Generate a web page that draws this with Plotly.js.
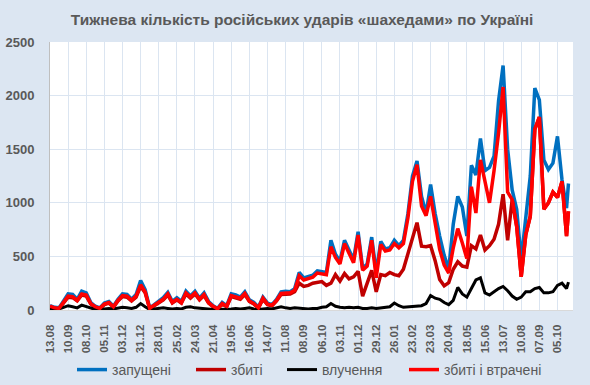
<!DOCTYPE html>
<html>
<head>
<meta charset="utf-8">
<script src="https://cdn.plot.ly/plotly-3.0.1.min.js"></script>
<style>
  html, body { margin: 0; padding: 0; background: #dce6f2; }
  #chart { width: 590px; height: 385px; }
</style>
</head>
<body>
<div id="chart"></div>
<script>
const dates = [
 '2023-08-13','2023-08-20','2023-08-27','2023-09-03','2023-09-10','2023-09-17','2023-09-24','2023-10-01','2023-10-08','2023-10-15',
 '2023-10-22','2023-10-29','2023-11-05','2023-11-12','2023-11-19','2023-11-26','2023-12-03','2023-12-10','2023-12-17','2023-12-24',
 '2023-12-31','2024-01-07','2024-01-14','2024-01-21','2024-01-28','2024-02-04','2024-02-11','2024-02-18','2024-02-25','2024-03-03',
 '2024-03-10','2024-03-17','2024-03-24','2024-03-31','2024-04-07','2024-04-14','2024-04-21','2024-04-28','2024-05-05','2024-05-12',
 '2024-05-19','2024-05-26','2024-06-02','2024-06-09','2024-06-16','2024-06-23','2024-06-30','2024-07-07','2024-07-14','2024-07-21',
 '2024-07-28','2024-08-04','2024-08-11','2024-08-18','2024-08-25','2024-09-01','2024-09-08','2024-09-15','2024-09-22','2024-09-29',
 '2024-10-06','2024-10-13','2024-10-20','2024-10-27','2024-11-03','2024-11-10','2024-11-17','2024-11-24','2024-12-01','2024-12-08',
 '2024-12-15','2024-12-22','2024-12-29','2025-01-05','2025-01-12','2025-01-19','2025-01-26','2025-02-02','2025-02-09','2025-02-16',
 '2025-02-23','2025-03-02','2025-03-09','2025-03-16','2025-03-23','2025-03-30','2025-04-06','2025-04-13','2025-04-20','2025-04-27',
 '2025-05-04','2025-05-11','2025-05-18','2025-05-25','2025-06-01','2025-06-08','2025-06-15','2025-06-22','2025-06-29','2025-07-06',
 '2025-07-13','2025-07-20','2025-07-27','2025-08-03','2025-08-10','2025-08-17','2025-08-24','2025-08-31','2025-09-07','2025-09-14',
 '2025-09-21','2025-09-28','2025-10-05','2025-10-12','2025-10-19','2025-10-22'
];

const launched = [
 40,25,20,80,150,145,100,175,160,70,
 35,20,65,80,35,100,150,145,100,145,
 275,190,20,50,80,115,165,80,115,80,
 175,130,175,110,160,80,40,15,70,40,
 150,140,120,170,95,70,25,120,65,50,
 100,170,175,170,200,350,300,310,325,365,
 355,350,650,520,455,650,560,470,730,390,
 430,680,350,640,570,580,650,600,650,900,
 1250,1390,1060,900,1170,900,690,510,380,800,
 1060,960,690,1350,1260,1600,1300,1330,1435,1950,
 2280,1500,1120,940,470,900,1250,2070,1960,1400,
 1310,1370,1620,1215,950,1180
];

const shotDown = [
 30,15,12,65,120,115,85,140,130,55,
 25,12,50,65,25,85,125,120,85,120,
 220,160,12,40,65,95,140,65,95,65,
 150,110,150,95,135,65,30,8,55,30,
 125,115,100,145,80,55,18,100,50,40,
 85,145,150,150,170,250,220,230,250,260,
 265,230,250,330,270,340,290,310,360,130,
 250,370,170,330,320,350,330,320,380,520,
 680,815,595,590,600,460,285,225,255,380,
 450,410,400,600,570,700,560,600,660,800,
 1080,650,1030,780,310,700,875,1685,1800,940,
 1000,1100,1050,1200,690,920
];

const hits = [
 15,10,10,25,40,30,20,45,30,15,
 5,5,10,15,10,15,25,20,15,25,
 60,30,5,10,15,20,15,10,15,10,
 25,30,20,15,15,10,5,5,5,10,
 10,15,10,15,20,10,5,10,15,10,
 20,30,20,15,20,15,10,10,15,15,
 25,30,60,35,25,20,25,20,25,15,
 15,20,15,20,25,30,65,40,25,30,
 35,35,40,60,135,110,100,70,50,90,
 210,150,120,200,280,300,160,140,170,200,
 220,180,130,100,120,170,170,200,210,160,
 160,170,230,250,200,260
];

const shotAndLost = [
 35,20,15,70,130,125,90,150,140,60,
 30,15,55,70,30,90,135,130,90,130,
 235,170,15,45,70,100,150,70,100,70,
 160,120,160,100,145,70,35,10,60,35,
 135,125,110,155,85,60,20,110,55,45,
 90,155,160,160,185,320,280,295,305,345,
 335,330,590,490,430,620,530,440,700,370,
 410,650,300,610,550,560,620,580,620,860,
 1200,1355,970,880,1060,800,565,420,345,580,
 760,625,480,1150,905,1400,1200,1000,1300,1650,
 2080,1100,1030,780,310,700,875,1685,1800,940,
 1000,1100,1050,1200,690,920
];

const seriesNames = ['запущені', 'збиті', 'влучення', 'збиті і втрачені'];
const seriesColors = ['#0070c0', '#c00000', '#000000', '#ff0000'];
const titleText = 'Тижнева кількість російських ударів «шахедами» по Україні';

const textColor = '#595959';
const gridColor = '#dbe5f1';
const fontFam = 'Liberation Sans, Arial, sans-serif';

const seriesValues = [launched, shotDown, hits, shotAndLost];
const legendIds = ['legend', 'legend2', 'legend3', 'legend4'];
const legendLeftPx = [72, 191, 282, 404];

const traces = seriesValues.map((vals, i) => ({
  x: dates, y: vals, name: seriesNames[i], type: 'scatter', mode: 'lines',
  legend: legendIds[i],
  line: {color: seriesColors[i], width: i === 2 ? 3 : 3.5}
}));

const layout = {
  width: 590, height: 385,
  paper_bgcolor: '#dce6f2',
  plot_bgcolor: '#ffffff',
  margin: {l: 50, r: 17, t: 42, b: 75, pad: 0},
  font: {family: fontFam, color: textColor},
  title: {
    text: titleText,
    font: {size: 15.5, color: textColor, weight: 'bold', family: fontFam},
    x: 0.512, xref: 'container', xanchor: 'center',
    y: 0.95, yref: 'container', yanchor: 'middle'
  },
  xaxis: {
    type: 'date',
    range: ['2023-08-13', '2025-10-29'],
    tick0: '2023-08-13',
    dtick: 28 * 24 * 3600 * 1000,
    tickformat: '%d.%m',
    tickangle: -90,
    tickfont: {size: 11.5, color: textColor, weight: 'bold'},
    ticklabelstandoff: 9,
    showgrid: true, gridcolor: gridColor, gridwidth: 1,
    showline: true, linecolor: '#d9d9d9', linewidth: 1,
    ticks: '', ticklen: 0,
    zeroline: false,
    automargin: false
  },
  yaxis: {
    range: [0, 2500],
    tickvals: [0, 500, 1000, 1500, 2000, 2500],
    tickfont: {size: 13, color: textColor, weight: 'bold'},
    ticklabelstandoff: 12,
    showgrid: true, gridcolor: gridColor, gridwidth: 1,
    showline: true, linecolor: '#bfbfbf', linewidth: 1,
    ticks: '', zeroline: false,
    automargin: false
  },
  showlegend: true
};

legendIds.forEach((id, i) => {
  layout[id] = {
    orientation: 'h',
    x: legendLeftPx[i] / 590, xref: 'container', xanchor: 'left',
    y: 0.039, yref: 'container', yanchor: 'middle',
    font: {size: 14, color: textColor, family: fontFam},
    bgcolor: 'rgba(0,0,0,0)',
    itemwidth: 30
  };
});

Plotly.newPlot('chart', traces, layout, {displayModeBar: false, staticPlot: true});
</script>
</body>
</html>
